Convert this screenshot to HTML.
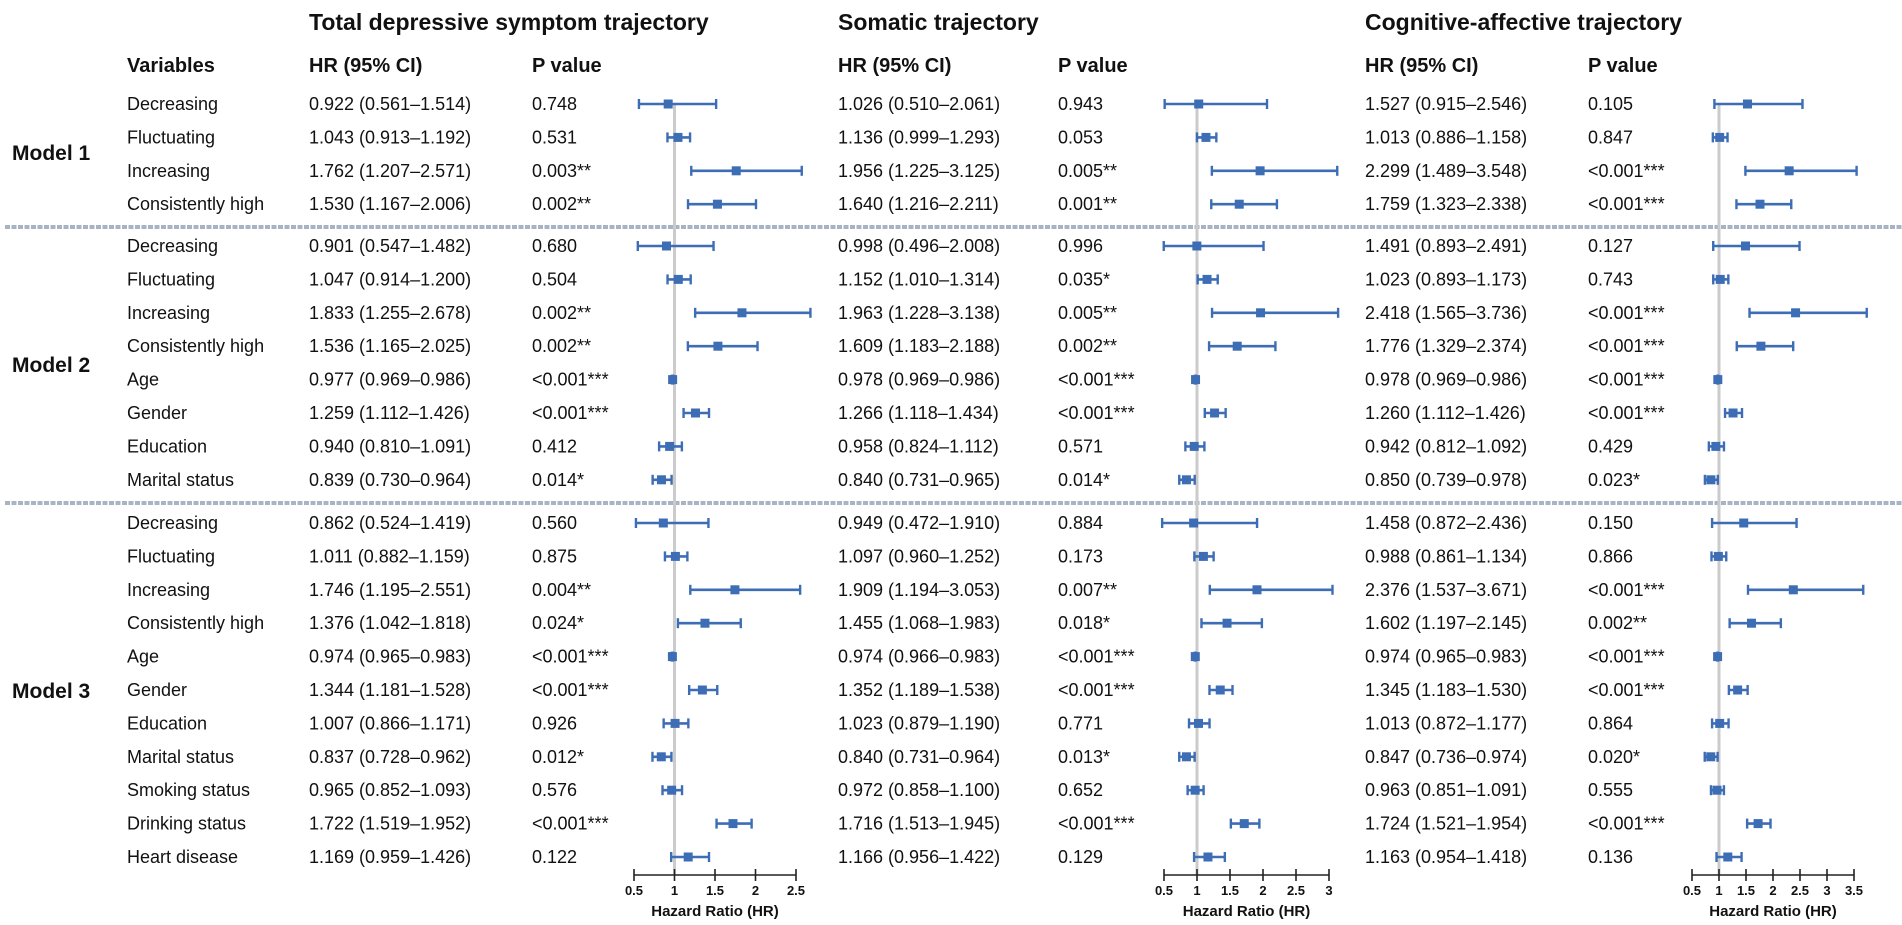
<!DOCTYPE html>
<html><head><meta charset="utf-8"><style>
html,body{margin:0;padding:0;background:#fff;}
svg{display:block;font-family:"Liberation Sans",Arial,sans-serif;}
</style></head><body>
<svg id="s" width="1902" height="925" viewBox="0 0 1902 925" xmlns="http://www.w3.org/2000/svg"></svg>
<script>
var rows=[
["Decreasing",["0.922 (0.561–1.514)","0.748",0.922,0.561,1.514],["1.026 (0.510–2.061)","0.943",1.026,0.510,2.061],["1.527 (0.915–2.546)","0.105",1.527,0.915,2.546]],
["Fluctuating",["1.043 (0.913–1.192)","0.531",1.043,0.913,1.192],["1.136 (0.999–1.293)","0.053",1.136,0.999,1.293],["1.013 (0.886–1.158)","0.847",1.013,0.886,1.158]],
["Increasing",["1.762 (1.207–2.571)","0.003**",1.762,1.207,2.571],["1.956 (1.225–3.125)","0.005**",1.956,1.225,3.125],["2.299 (1.489–3.548)","<0.001***",2.299,1.489,3.548]],
["Consistently high",["1.530 (1.167–2.006)","0.002**",1.530,1.167,2.006],["1.640 (1.216–2.211)","0.001**",1.640,1.216,2.211],["1.759 (1.323–2.338)","<0.001***",1.759,1.323,2.338]],
["Decreasing",["0.901 (0.547–1.482)","0.680",0.901,0.547,1.482],["0.998 (0.496–2.008)","0.996",0.998,0.496,2.008],["1.491 (0.893–2.491)","0.127",1.491,0.893,2.491]],
["Fluctuating",["1.047 (0.914–1.200)","0.504",1.047,0.914,1.200],["1.152 (1.010–1.314)","0.035*",1.152,1.010,1.314],["1.023 (0.893–1.173)","0.743",1.023,0.893,1.173]],
["Increasing",["1.833 (1.255–2.678)","0.002**",1.833,1.255,2.678],["1.963 (1.228–3.138)","0.005**",1.963,1.228,3.138],["2.418 (1.565–3.736)","<0.001***",2.418,1.565,3.736]],
["Consistently high",["1.536 (1.165–2.025)","0.002**",1.536,1.165,2.025],["1.609 (1.183–2.188)","0.002**",1.609,1.183,2.188],["1.776 (1.329–2.374)","<0.001***",1.776,1.329,2.374]],
["Age",["0.977 (0.969–0.986)","<0.001***",0.977,0.969,0.986],["0.978 (0.969–0.986)","<0.001***",0.978,0.969,0.986],["0.978 (0.969–0.986)","<0.001***",0.978,0.969,0.986]],
["Gender",["1.259 (1.112–1.426)","<0.001***",1.259,1.112,1.426],["1.266 (1.118–1.434)","<0.001***",1.266,1.118,1.434],["1.260 (1.112–1.426)","<0.001***",1.260,1.112,1.426]],
["Education",["0.940 (0.810–1.091)","0.412",0.940,0.810,1.091],["0.958 (0.824–1.112)","0.571",0.958,0.824,1.112],["0.942 (0.812–1.092)","0.429",0.942,0.812,1.092]],
["Marital status",["0.839 (0.730–0.964)","0.014*",0.839,0.730,0.964],["0.840 (0.731–0.965)","0.014*",0.840,0.731,0.965],["0.850 (0.739–0.978)","0.023*",0.850,0.739,0.978]],
["Decreasing",["0.862 (0.524–1.419)","0.560",0.862,0.524,1.419],["0.949 (0.472–1.910)","0.884",0.949,0.472,1.910],["1.458 (0.872–2.436)","0.150",1.458,0.872,2.436]],
["Fluctuating",["1.011 (0.882–1.159)","0.875",1.011,0.882,1.159],["1.097 (0.960–1.252)","0.173",1.097,0.960,1.252],["0.988 (0.861–1.134)","0.866",0.988,0.861,1.134]],
["Increasing",["1.746 (1.195–2.551)","0.004**",1.746,1.195,2.551],["1.909 (1.194–3.053)","0.007**",1.909,1.194,3.053],["2.376 (1.537–3.671)","<0.001***",2.376,1.537,3.671]],
["Consistently high",["1.376 (1.042–1.818)","0.024*",1.376,1.042,1.818],["1.455 (1.068–1.983)","0.018*",1.455,1.068,1.983],["1.602 (1.197–2.145)","0.002**",1.602,1.197,2.145]],
["Age",["0.974 (0.965–0.983)","<0.001***",0.974,0.965,0.983],["0.974 (0.966–0.983)","<0.001***",0.974,0.966,0.983],["0.974 (0.965–0.983)","<0.001***",0.974,0.965,0.983]],
["Gender",["1.344 (1.181–1.528)","<0.001***",1.344,1.181,1.528],["1.352 (1.189–1.538)","<0.001***",1.352,1.189,1.538],["1.345 (1.183–1.530)","<0.001***",1.345,1.183,1.530]],
["Education",["1.007 (0.866–1.171)","0.926",1.007,0.866,1.171],["1.023 (0.879–1.190)","0.771",1.023,0.879,1.190],["1.013 (0.872–1.177)","0.864",1.013,0.872,1.177]],
["Marital status",["0.837 (0.728–0.962)","0.012*",0.837,0.728,0.962],["0.840 (0.731–0.964)","0.013*",0.840,0.731,0.964],["0.847 (0.736–0.974)","0.020*",0.847,0.736,0.974]],
["Smoking status",["0.965 (0.852–1.093)","0.576",0.965,0.852,1.093],["0.972 (0.858–1.100)","0.652",0.972,0.858,1.100],["0.963 (0.851–1.091)","0.555",0.963,0.851,1.091]],
["Drinking status",["1.722 (1.519–1.952)","<0.001***",1.722,1.519,1.952],["1.716 (1.513–1.945)","<0.001***",1.716,1.513,1.945],["1.724 (1.521–1.954)","<0.001***",1.724,1.521,1.954]],
["Heart disease",["1.169 (0.959–1.426)","0.122",1.169,0.959,1.426],["1.166 (0.956–1.422)","0.129",1.166,0.956,1.422],["1.163 (0.954–1.418)","0.136",1.163,0.954,1.418]]
];
var ys=[];
for(var k=0;k<4;k++)ys.push(104+33.4*k);
for(k=0;k<8;k++)ys.push(246+33.4*k);
for(k=0;k<11;k++)ys.push(523+33.4*k);
var panels=[
 {title:"Total depressive symptom trajectory",tx:309,hr:309,p:532,x0:634,u:81,max:2.5},
 {title:"Somatic trajectory",tx:838,hr:838,p:1058,x0:1164,u:66,max:3},
 {title:"Cognitive-affective trajectory",tx:1365,hr:1365,p:1588,x0:1692,u:54,max:3.5}
];
var o=[];
var C="#3d6db5";
function t(x,y,s,sz,b,anchor){o.push('<text x="'+x+'" y="'+y+'" font-size="'+sz+'"'+(b?' font-weight="bold"':'')+(anchor?' text-anchor="'+anchor+'"':'')+' fill="#111">'+s.replace(/</g,"&lt;")+'</text>');}
[227,503].forEach(function(y){o.push('<line x1="5" y1="'+y+'" x2="1902" y2="'+y+'" stroke="#a8b4c4" stroke-width="4" stroke-dasharray="5,1.5"/>');});
t(127,72,"Variables",20,true);
t(12,160,"Model 1",21,true);t(12,372,"Model 2",21,true);t(12,698,"Model 3",21,true);
panels.forEach(function(P,pi){
 t(P.tx,30,P.title,23,true);
 t(P.hr,72,"HR (95% CI)",20,true);
 t(P.p,72,"P value",20,true);
 function X(v){return P.x0+(v-0.5)*P.u;}
 var x1=X(1);
 o.push('<line x1="'+x1+'" y1="'+ys[0]+'" x2="'+x1+'" y2="875" stroke="#cbcbcb" stroke-width="3"/>');
 rows.forEach(function(r,i){
  var d=r[pi+1],y=ys[i];
  t(P.hr,y+6,d[0],18,false);
  t(P.p,y+6,d[1],18,false);
  var a=X(d[3]),b=X(d[4]),m=X(d[2]);
  o.push('<line x1="'+a+'" y1="'+y+'" x2="'+b+'" y2="'+y+'" stroke="'+C+'" stroke-width="2.6"/>');
  o.push('<line x1="'+a+'" y1="'+(y-5)+'" x2="'+a+'" y2="'+(y+5)+'" stroke="'+C+'" stroke-width="2.4"/>');
  o.push('<line x1="'+b+'" y1="'+(y-5)+'" x2="'+b+'" y2="'+(y+5)+'" stroke="'+C+'" stroke-width="2.4"/>');
  o.push('<rect x="'+(m-4.5)+'" y="'+(y-4.5)+'" width="9" height="9" fill="'+C+'"/>');
 });
 var xe=X(P.max);
 o.push('<line x1="'+P.x0+'" y1="875" x2="'+xe+'" y2="875" stroke="#222" stroke-width="1.6"/>');
 for(var v=0.5;v<=P.max+0.001;v+=0.5){
  var xx=X(v);
  o.push('<line x1="'+xx+'" y1="869" x2="'+xx+'" y2="881" stroke="#222" stroke-width="1.6"/>');
  t(xx,895,String(v),13,true,"middle");
 }
 t((P.x0+xe)/2,916,"Hazard Ratio (HR)",15,true,"middle");
});
rows.forEach(function(r,i){t(127,ys[i]+6,r[0],18,false);});
document.getElementById("s").innerHTML=o.join("");
</script>
</body></html>
